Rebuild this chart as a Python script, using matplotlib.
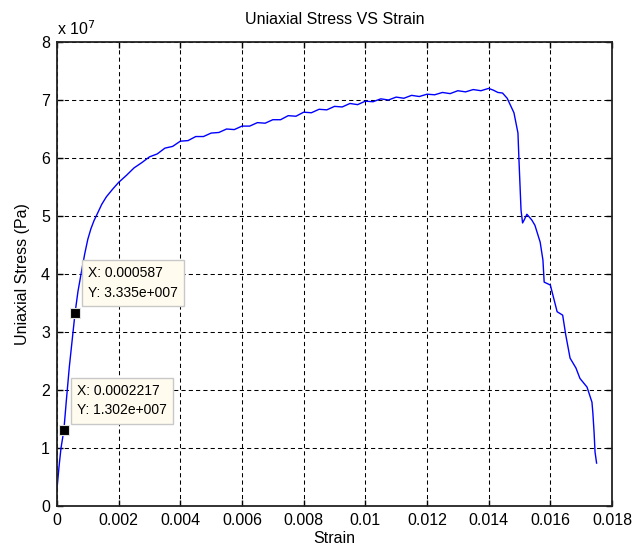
import numpy as np
import matplotlib
matplotlib.use('Agg')
import matplotlib.pyplot as plt

# strain (x 1e-3) and stress (x 1e7 Pa)
strain_e3 = [0, 0.07, 0.13, 0.2217, 0.3, 0.4, 0.5, 0.587, 0.68, 0.78, 0.9, 1.0,
             1.1, 1.2, 1.3, 1.45, 1.6, 1.8,
             2.00, 2.25, 2.50, 2.75, 3.00, 3.25, 3.50, 3.75, 4.00, 4.25, 4.50, 4.75,
             5.00, 5.25, 5.50, 5.75, 6.00, 6.25, 6.50, 6.75, 7.00, 7.25, 7.50, 7.75,
             8.00, 8.25, 8.50, 8.75, 9.00, 9.25, 9.50, 9.75, 10.00, 10.25, 10.50, 10.75,
             11.00, 11.25, 11.50, 11.75, 12.00, 12.25, 12.50, 12.75, 13.00, 13.25, 13.50,
             13.75, 14.00, 14.15, 14.30, 14.45, 14.60, 14.82, 14.95, 14.98, 15.05, 15.10,
             15.15, 15.24, 15.40, 15.50, 15.67, 15.76, 15.80, 16.00, 16.22, 16.40, 16.50,
             16.64, 16.83, 16.96, 17.19, 17.35, 17.38, 17.42, 17.45, 17.50]
stress_e7 = [0.3, 0.7, 1.0, 1.302, 1.8, 2.4, 2.9, 3.335, 3.7, 4.0, 4.35, 4.6,
             4.78, 4.92, 5.03, 5.2, 5.33, 5.46,
             5.58, 5.70, 5.83, 5.92, 6.02, 6.07, 6.17, 6.20, 6.29, 6.30, 6.37, 6.37,
             6.43, 6.44, 6.50, 6.49, 6.55, 6.55, 6.61, 6.60, 6.66, 6.66, 6.73, 6.72,
             6.79, 6.78, 6.84, 6.83, 6.89, 6.88, 6.94, 6.92, 6.98, 6.97, 7.02, 7.00,
             7.05, 7.03, 7.08, 7.06, 7.10, 7.09, 7.13, 7.11, 7.16, 7.14, 7.18,
             7.16, 7.20, 7.17, 7.13, 7.12, 7.03, 6.78, 6.43, 6.0, 5.1, 4.88,
             4.93, 5.03, 4.93, 4.84, 4.55, 4.24, 3.86, 3.81, 3.35, 3.29, 2.95,
             2.55, 2.38, 2.20, 2.05, 1.79, 1.60, 1.26, 0.93, 0.74]

# data tips
tip_x = [0.0002217, 0.000587]
tip_y = [1.302e7, 3.335e7]
tip_lbl = ['X: 0.0002217\nY: 1.302e+007', 'X: 0.000587\nY: 3.335e+007']

strain = np.array(strain_e3) * 1e-3
stress = np.array(stress_e7) * 1e7

plt.rcParams['font.family'] = 'Liberation Sans'

fig = plt.figure(figsize=(6.32, 5.54), dpi=100)
ax = fig.add_axes([57/632, 1 - 506/554, (612-57)/632, (506-42)/554])

ax.plot(strain, stress, color='#0000FF', lw=1.0)

ax.set_xlim(0, 0.018)
ax.set_ylim(0, 8e7)
ax.set_xticks(np.arange(0, 0.0181, 0.002))
ax.set_xticklabels(['0', '0.002', '0.004', '0.006', '0.008', '0.01', '0.012',
                    '0.014', '0.016', '0.018'])
ax.set_yticks(np.arange(0, 8.1e7, 1e7))
ax.set_yticklabels([str(i) for i in range(9)])

ax.grid(True, color='black', linestyle=(0, (4, 3)), lw=0.75)
ax.tick_params(direction='in', top=True, right=True, length=4, labelsize=11.5,
               width=1, pad=5)
for s in ax.spines.values():
    s.set_color('#222222')
    s.set_linewidth(1.3)

ax.set_title('Uniaxial Stress VS Strain', fontsize=11.5, pad=13)
ax.set_xlabel('Strain', fontsize=11.5, labelpad=2)
ax.set_ylabel('Uniaxial Stress (Pa)', fontsize=11.5, labelpad=8)
ax.text(0.0, 1.008, r'x 10$^{7}$', transform=ax.transAxes, fontsize=11.5,
        ha='left', va='bottom')

ax.scatter(tip_x, tip_y, marker='s', s=60, c='black', edgecolors='#E0E0E0',
           linewidths=0.8, zorder=5)
for x, y, t in zip(tip_x, tip_y, tip_lbl):
    ax.annotate(t, (x, y), xytext=(13, 13), textcoords='offset pixels',
                ha='left', va='bottom', fontsize=10, linespacing=1.5, zorder=6,
                bbox=dict(boxstyle='square,pad=0.45', fc='#FFFBEE', ec='#C8C8C8', lw=1))

fig.savefig('out.png', dpi=100)
